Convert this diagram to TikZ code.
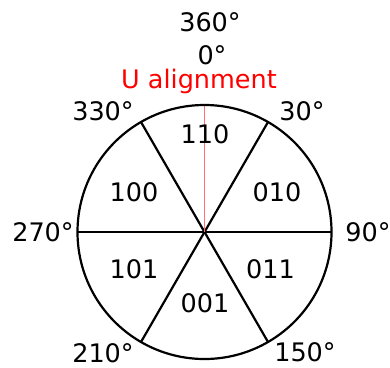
\documentclass[tikz,border=0pt]{standalone}
\usepackage{fontspec}
\setmainfont{DejaVu Sans}
\begin{document}
\begin{tikzpicture}[x=1pt,y=-1pt,
  lbl/.style={inner sep=0pt,font=\fontsize{25.5}{30}\selectfont},
  edge/.style={line width=2.2pt,black}]
\useasboundingbox (0,0) rectangle (390,367);
\coordinate (O) at (204.5,232);
\path (O) ++(0:127) coordinate (E);
\path (O) ++(180:127) coordinate (W);
\path (O) ++(-60:127) coordinate (A30);
\path (O) ++(120:127) coordinate (A210);
\path (O) ++(-120:127) coordinate (A330);
\path (O) ++(60:127) coordinate (A150);
\path (O) ++(-90:127) coordinate (N);
\draw[edge] (W) -- (E);
\draw[edge] (A30) -- (A210);
\draw[edge] (A330) -- (A150);
\draw[red!55,line width=1.3pt] (O) -- (N);
\draw[edge] (O) circle [radius=127];
\node[lbl] (t360) at (210,22) {360°};
\node[lbl] (t0) at (212,55) {0°};
\node[lbl,text=red,anchor=base] (ua) at (199,88) {U alignment};
\node[lbl] (t330) at (103,111) {330°};
\node[lbl] (t30) at (302,111) {30°};
\node[lbl] (t270) at (43,232) {270°};
\node[lbl] (t90) at (368,232) {90°};
\node[lbl] (t210) at (103,353) {210°};
\node[lbl] (t150) at (305,352) {150°};
\node[lbl] (s110) at (205,134.5) {110};
\node[lbl] (s100) at (134,192) {100};
\node[lbl] (s010) at (277,192) {010};
\node[lbl] (s101) at (134,269) {101};
\node[lbl] (s011) at (270.5,269) {011};
\node[lbl] (s001) at (205,303) {001};
\end{tikzpicture}
\end{document}
